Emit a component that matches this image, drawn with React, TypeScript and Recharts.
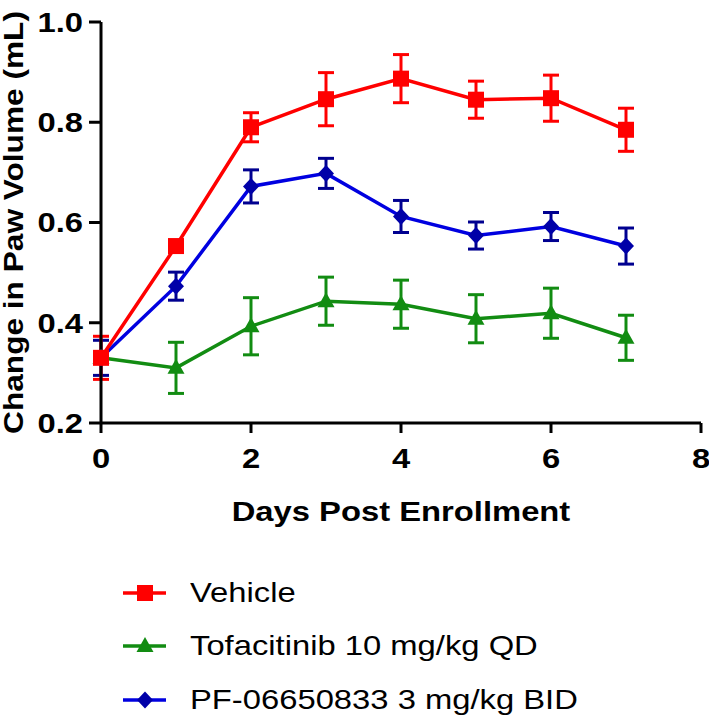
import { ErrorBar, Label, Legend, Line, LineChart, XAxis, YAxis } from "recharts";

const days = [0, 1, 2, 3, 4, 5, 6, 7];

const vehicleMean = [0.33, 0.553, 0.79, 0.846, 0.887, 0.845, 0.848, 0.785];
const vehicleSem = [0.043, 0.008, 0.029, 0.053, 0.048, 0.037, 0.046, 0.043];

const tofaMean = [0.33, 0.31, 0.393, 0.443, 0.437, 0.408, 0.419, 0.37];
const tofaSem = [0.01, 0.051, 0.057, 0.048, 0.048, 0.048, 0.05, 0.045];

const pfMean = [0.33, 0.473, 0.672, 0.698, 0.612, 0.574, 0.592, 0.553];
const pfSem = [0.035, 0.028, 0.033, 0.03, 0.032, 0.027, 0.028, 0.036];

const xTicks = [0, 2, 4, 6, 8];
const yTicks = [0.2, 0.4, 0.6, 0.8, 1.0];

const data = days.map((day, i) => ({
  day,
  vehicle: vehicleMean[i],
  vehicleErr: vehicleSem[i],
  tofa: tofaMean[i],
  tofaErr: tofaSem[i],
  pf: pfMean[i],
  pfErr: pfSem[i],
}));

const FONT = "'Liberation Sans', Arial, sans-serif";
const STRETCH = 1.17;

type Shape = "square" | "triangle" | "diamond";

const series: { key: string; name: string; line: string; marker: string; err: string; shape: Shape }[] = [
  { key: "vehicle", name: "Vehicle", line: "#FF0000", marker: "#FF0000", err: "#FF0000", shape: "square" },
  { key: "tofa", name: "Tofacitinib 10 mg/kg QD", line: "#128C12", marker: "#128C12", err: "#128C12", shape: "triangle" },
  { key: "pf", name: "PF-06650833 3 mg/kg BID", line: "#0000E0", marker: "#0000A8", err: "#000090", shape: "diamond" },
];

function marker(shape: Shape, cx: number, cy: number, color: string, key?: string) {
  if (shape === "square") {
    return <rect key={key} x={cx - 8} y={cy - 8} width={16} height={16} fill={color} />;
  }
  if (shape === "triangle") {
    return (
      <polygon
        key={key}
        points={`${cx},${cy - 9} ${cx - 8.5},${cy + 6} ${cx + 8.5},${cy + 6}`}
        fill={color}
      />
    );
  }
  return (
    <polygon
      key={key}
      points={`${cx},${cy - 8.5} ${cx + 8},${cy} ${cx},${cy + 8.5} ${cx - 8},${cy}`}
      fill={color}
    />
  );
}

const makeDot = (shape: Shape, color: string) => (props: any) => {
  const { cx, cy, index } = props;
  if (cx == null || cy == null) return <g key={`empty-${index}`} />;
  return marker(shape, cx, cy, color, `${shape}-${index}`);
};

const XTick = ({ x, y, payload }: any) => (
  <g transform={`translate(${x},${y}) scale(${STRETCH},1)`}>
    <text x={0} y={0} dy="0.71em" textAnchor="middle" fontFamily={FONT} fontWeight="bold" fontSize={28} fill="#000">
      {payload.value}
    </text>
  </g>
);

const YTick = ({ x, y, payload }: any) => (
  <g transform={`translate(${x},${y}) scale(${STRETCH},1)`}>
    <text x={0} y={0} dy="0.355em" textAnchor="end" fontFamily={FONT} fontWeight="bold" fontSize={28} fill="#000">
      {Number(payload.value).toFixed(1)}
    </text>
  </g>
);

const XTitle = ({ viewBox }: any) => (
  <g transform={`translate(${viewBox.x + viewBox.width / 2},${viewBox.y + viewBox.height + 38}) scale(${STRETCH},1)`}>
    <text textAnchor="middle" fontFamily={FONT} fontWeight="bold" fontSize={28} fill="#000">
      Days Post Enrollment
    </text>
  </g>
);

const YTitle = ({ viewBox }: any) => (
  <g transform={`translate(${viewBox.x + 23},${viewBox.y + viewBox.height / 2}) rotate(-90) scale(1.13,1)`}>
    <text textAnchor="middle" fontFamily={FONT} fontWeight="bold" fontSize={28} fill="#000">
      Change in Paw Volume (mL)
    </text>
  </g>
);

const LegendContent = () => (
  <div style={{ fontFamily: FONT, fontSize: 28, color: "#000" }}>
    {series.map((s) => (
      <div key={s.key} style={{ display: "flex", alignItems: "center", height: 53.5 }}>
        <svg width={67} height={24} style={{ display: "block" }}>
          <line x1={0} y1={12} x2={43} y2={12} stroke={s.line} strokeWidth={3.5} />
          {marker(s.shape, 22, 12, s.marker)}
        </svg>
        <span style={{ display: "inline-block", whiteSpace: "nowrap", transform: `scaleX(${STRETCH})`, transformOrigin: "left center" }}>
          {s.name}
        </span>
      </div>
    ))}
  </div>
);

// draw green, then blue, then red so vehicle sits on top
const drawOrder = ["tofa", "pf", "vehicle"];

export default function App() {
  return (
    <div style={{ position: "absolute", left: 0, top: 0, width: 709, height: 718, background: "#fff" }}>
      <LineChart width={709} height={718} data={data} margin={{ top: 22, right: 8, bottom: 235, left: 0 }}>
        <XAxis
          dataKey="day"
          type="number"
          domain={[0, 8]}
          ticks={xTicks}
          height={60}
          axisLine={{ stroke: "#000", strokeWidth: 3 }}
          tickLine={{ stroke: "#000", strokeWidth: 3 }}
          tickSize={10}
          tickMargin={15}
          tick={<XTick />}
        >
          <Label content={<XTitle />} />
        </XAxis>
        <YAxis
          type="number"
          domain={[0.2, 1.0]}
          ticks={yTicks}
          width={101}
          axisLine={{ stroke: "#000", strokeWidth: 3 }}
          tickLine={{ stroke: "#000", strokeWidth: 3 }}
          tickSize={12}
          tickMargin={6}
          tick={<YTick />}
        >
          <Label content={<YTitle />} />
        </YAxis>
        <Legend
          layout="vertical"
          align="center"
          verticalAlign="middle"
          content={<LegendContent />}
          wrapperStyle={{ left: 123, top: 566, bottom: "auto", width: 560 }}
        />
        {drawOrder.map((k) => {
          const s = series.find((d) => d.key === k)!;
          return (
            <Line
              key={s.key}
              dataKey={s.key}
              name={s.name}
              stroke={s.line}
              strokeWidth={3.5}
              dot={makeDot(s.shape, s.marker)}
              activeDot={false}
              isAnimationActive={false}
            >
              <ErrorBar dataKey={`${s.key}Err`} width={8} strokeWidth={3} stroke={s.err} direction="y" isAnimationActive={false} />
            </Line>
          );
        })}
      </LineChart>
    </div>
  );
}
